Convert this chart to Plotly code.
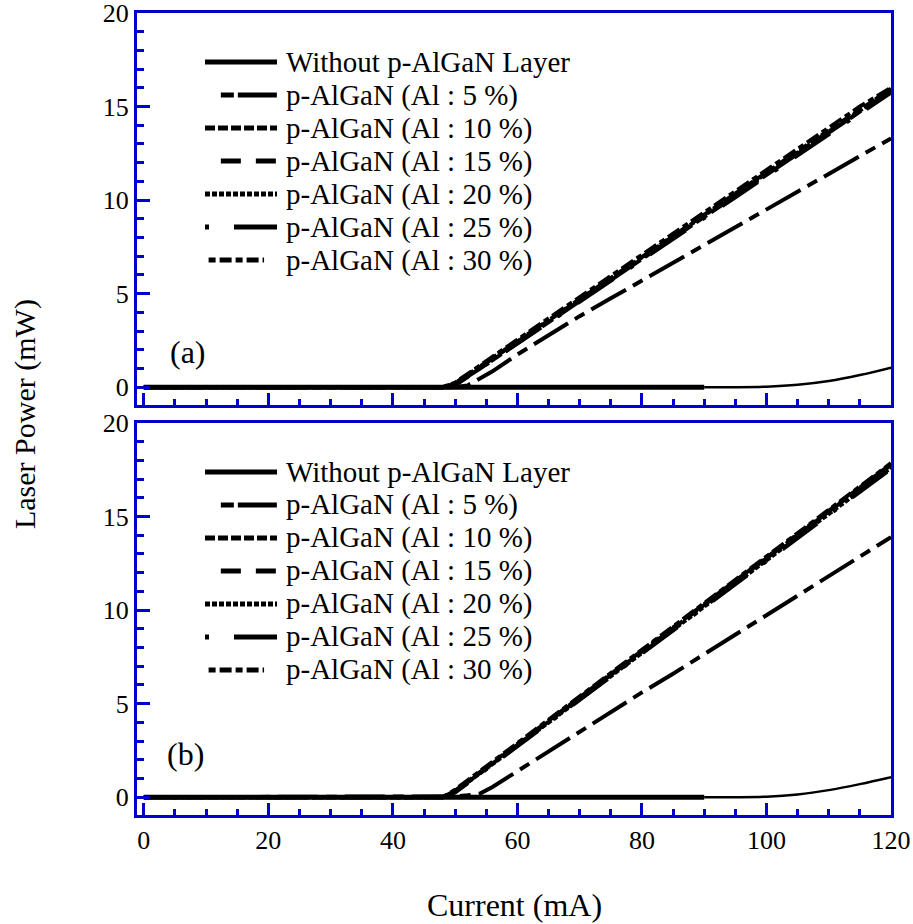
import plotly.graph_objects as go

# ---- data: injection current (mA) and laser output power (mW) ----
current = [0, 10, 20, 30, 40, 45, 48, 50, 52, 54, 56, 60, 65, 70, 75, 80,
           85, 90, 95, 100, 105, 110, 115, 120]

series_names = ["Without p-AlGaN Layer", "p-AlGaN (Al : 5 %)", "p-AlGaN (Al : 10 %)",
                "p-AlGaN (Al : 15 %)", "p-AlGaN (Al : 20 %)", "p-AlGaN (Al : 25 %)",
                "p-AlGaN (Al : 30 %)"]

# panel (a)
a_without = [0, 0, 0, 0, 0, 0, 0, 0, 0, 0, 0, 0, 0, 0, 0, 0, 0, 0, 0.0, 0.03, 0.13, 0.33, 0.65, 1.05]
a_al5 = [0, 0, 0, 0, 0, 0, 0, 0.15, 0.55, 1.0, 1.45, 2.35, 3.5, 4.6, 5.75, 6.85, 8.0, 9.1, 10.25, 11.35, 12.5, 13.6, 14.75, 15.85]
a_al10 = [0, 0, 0, 0, 0, 0, 0, 0.2, 0.62, 1.08, 1.53, 2.44, 3.57, 4.7, 5.83, 6.96, 8.09, 9.22, 10.35, 11.48, 12.61, 13.74, 14.87, 15.95]
a_al15 = [0, 0, 0, 0, 0, 0, 0, 0.0, 0.1, 0.45, 0.85, 1.75, 2.8, 3.8, 4.75, 5.7, 6.65, 7.6, 8.55, 9.5, 10.45, 11.4, 12.35, 13.3]
a_al20 = [0, 0, 0, 0, 0, 0, 0, 0.22, 0.67, 1.12, 1.57, 2.46, 3.58, 4.7, 5.82, 6.94, 8.06, 9.18, 10.3, 11.42, 12.54, 13.66, 14.78, 15.9]
a_al25 = [0, 0, 0, 0, 0, 0, 0, 0.1, 0.55, 1.0, 1.44, 2.33, 3.45, 4.56, 5.68, 6.8, 7.92, 9.04, 10.15, 11.27, 12.39, 13.5, 14.62, 15.75]
a_al30 = [0, 0, 0, 0, 0, 0, 0, 0.25, 0.72, 1.18, 1.63, 2.54, 3.68, 4.81, 5.94, 7.08, 8.21, 9.35, 10.48, 11.62, 12.75, 13.88, 15.0, 16.0]

# panel (b)
b_without = [0, 0, 0, 0, 0, 0, 0, 0, 0, 0, 0, 0, 0, 0, 0, 0, 0, 0, 0.0, 0.03, 0.15, 0.38, 0.7, 1.07]
b_al5 = [0, 0, 0, 0, 0, 0, 0, 0.3, 0.8, 1.3, 1.8, 2.8, 4.05, 5.3, 6.55, 7.8, 9.05, 10.3, 11.55, 12.8, 14.05, 15.3, 16.55, 17.75]
b_al10 = [0, 0, 0, 0, 0, 0, 0, 0.35, 0.85, 1.36, 1.86, 2.86, 4.1, 5.35, 6.6, 7.85, 9.1, 10.35, 11.6, 12.85, 14.1, 15.35, 16.6, 17.8]
b_al15 = [0, 0, 0, 0, 0, 0, 0, 0.05, 0.1, 0.2, 0.55, 1.4, 2.45, 3.5, 4.55, 5.6, 6.6, 7.65, 8.7, 9.75, 10.8, 11.85, 12.9, 13.9]
b_al20 = [0, 0, 0, 0, 0, 0, 0, 0.3, 0.78, 1.27, 1.76, 2.75, 3.99, 5.22, 6.46, 7.7, 8.94, 10.18, 11.42, 12.66, 13.9, 15.14, 16.38, 17.6]
b_al25 = [0, 0, 0, 0, 0, 0, 0, 0.25, 0.74, 1.23, 1.73, 2.72, 3.96, 5.2, 6.44, 7.68, 8.92, 10.16, 11.4, 12.64, 13.88, 15.12, 16.36, 17.55]
b_al30 = [0, 0, 0, 0, 0, 0, 0, 0.4, 0.9, 1.4, 1.9, 2.9, 4.15, 5.4, 6.65, 7.9, 9.15, 10.4, 11.65, 12.9, 14.15, 15.4, 16.65, 17.85]

x_ticks = [0, 20, 40, 60, 80, 100, 120]
y_ticks = [0, 5, 10, 15, 20]

# ---- styling ----
FONT = "Liberation Serif"
BLUE = "#0000cc"
curve_dash = ["solid", "39px,5px,13px,5px", "9px,4px", "40px,8px,11px,8px",
              "5px,2px", "4px,20px,43px,20px", "6px,4px,14px,4px"]
# legend key patterns: (start fraction of key, dash)
key_style = [(0.0, "solid"), (0.22, "13px,4px,39px"), (0.0, "10px,3px"),
             (0.22, "20px,15px"), (0.0, "5px,2px"), (0.0, "4px,25px,43px"),
             (0.05, "7px,4px,12px,4px")]
key_end = [1.0, 1.0, 1.0, 1.0, 1.0, 1.0, 0.82]

fig = go.Figure()

panels = [
    ("x", "y", [a_without, a_al5, a_al10, a_al15, a_al20, a_al25, a_al30]),
    ("x2", "y2", [b_without, b_al5, b_al10, b_al15, b_al20, b_al25, b_al30]),
]

split = current.index(90)
for xa, ya, data in panels:
    # p-AlGaN curves
    for k in range(1, 7):
        fig.add_trace(go.Scatter(
            x=current, y=data[k], mode="lines", xaxis=xa, yaxis=ya,
            line=dict(color="black", width=4, dash=curve_dash[k]),
            name=series_names[k], showlegend=False))
    # reference device: heavy below 90 mA, lighter above
    fig.add_trace(go.Scatter(
        x=current[:split + 1], y=data[0][:split + 1], mode="lines", xaxis=xa, yaxis=ya,
        line=dict(color="black", width=5), name=series_names[0], showlegend=False))
    fig.add_trace(go.Scatter(
        x=current[split:], y=data[0][split:], mode="lines", xaxis=xa, yaxis=ya,
        line=dict(color="black", width=2.5, shape="spline"), name=series_names[0],
        showlegend=False))

# ---- in-panel legends ----
shapes = []
annotations = []
panel_h = 392.0
key_x0, key_x1, text_x = 0.0902, 0.1857, 0.195
for xa, ya in [("x", "y"), ("x2", "y2")]:
    for k, name in enumerate(series_names):
        yy = 1 - (49 + 33 * k) / panel_h
        start, dash = key_style[k]
        xs = key_x0 + start * (key_x1 - key_x0)
        xe = key_x0 + key_end[k] * (key_x1 - key_x0)
        shapes.append(dict(type="line", xref=f"{xa} domain", yref=f"{ya} domain",
                           x0=xs, x1=xe, y0=yy, y1=yy,
                           line=dict(color="black", width=5, dash=dash)))
        annotations.append(dict(text=name, xref=f"{xa} domain", yref=f"{ya} domain",
                                x=text_x, y=yy, xanchor="left", yanchor="middle",
                                showarrow=False, font=dict(family=FONT, size=29, color="black")))

annotations.append(dict(text="(a)", xref="x", yref="y", x=3.9, y=1.9, xanchor="left",
                        yanchor="middle", showarrow=False,
                        font=dict(family=FONT, size=32, color="black")))
annotations.append(dict(text="(b)", xref="x2", yref="y2", x=3.4, y=2.3, xanchor="left",
                        yanchor="middle", showarrow=False,
                        font=dict(family=FONT, size=32, color="black")))
annotations.append(dict(text="Laser Power (mW)", xref="paper", yref="paper",
                        x=-0.1485, y=0.5, textangle=-90, showarrow=False,
                        xanchor="center", yanchor="middle",
                        font=dict(family=FONT, size=30, color="black")))
annotations.append(dict(text="Current (mA)", xref="paper", yref="paper",
                        x=0.5, y=-0.112, showarrow=False, xanchor="center", yanchor="middle",
                        font=dict(family=FONT, size=32, color="black")))

xaxis_common = dict(range=[-1.1, 120], tickvals=x_ticks, ticks="inside", ticklen=12,
                    tickwidth=2.5, tickcolor=BLUE, showline=True, mirror=True,
                    linecolor=BLUE, linewidth=3, showgrid=False, zeroline=False,
                    automargin=False, ticklabeloverflow="allow",
                    minor=dict(ticks="inside", dtick=5, tick0=0, ticklen=6,
                               tickwidth=2.5, tickcolor=BLUE, showgrid=False),
                    tickfont=dict(family=FONT, size=26, color="black"))
yaxis_common = dict(range=[-0.95, 20], tickvals=y_ticks, ticks="inside", ticklen=13,
                    tickwidth=2.5, tickcolor=BLUE, showline=True, mirror=True,
                    linecolor=BLUE, linewidth=3, showgrid=False, zeroline=False,
                    automargin=False, ticklabeloverflow="allow",
                    minor=dict(ticks="inside", dtick=1, tick0=0, ticklen=7,
                               tickwidth=2.5, tickcolor=BLUE, showgrid=False),
                    tickfont=dict(family=FONT, size=26, color="black"))

fig.update_layout(
    width=913, height=924,
    margin=dict(l=137, r=22, t=13, b=109),
    paper_bgcolor="white", plot_bgcolor="white",
    showlegend=False,
    font=dict(family=FONT, color="black"),
    xaxis=dict(xaxis_common, anchor="y", domain=[0, 1], showticklabels=False),
    xaxis2=dict(xaxis_common, anchor="y2", domain=[0, 1]),
    yaxis=dict(yaxis_common, anchor="x", domain=[0.5112, 1]),
    yaxis2=dict(yaxis_common, anchor="x2", domain=[0, 0.4888]),
    shapes=shapes,
    annotations=annotations,
)

fig.write_html("out.html")
